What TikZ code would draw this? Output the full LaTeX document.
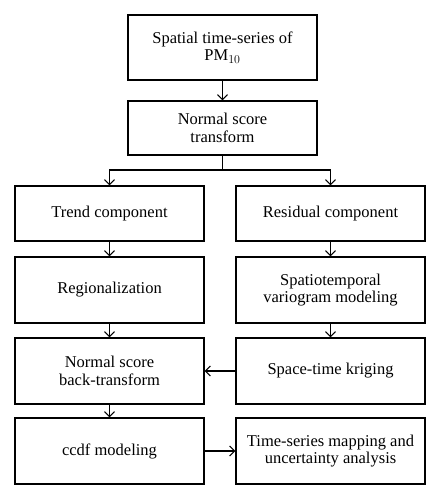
\documentclass[tikz,border=0pt]{standalone}
\usepackage{fontspec}
\setmainfont{Liberation Serif}
\usetikzlibrary{arrows.meta}
\begin{document}
\begin{tikzpicture}[x=1pt, y=-1pt,
    box/.style={draw, line width=1.2pt, minimum width=189pt, align=center,
        font=\fontsize{16.5}{17.5}\selectfont, inner sep=2pt},
    flow/.style={line width=1.1pt, -{Straight Barb[length=5pt,width=10pt]}}]
    \useasboundingbox (0,0) rectangle (440,500);

    % Boxes
    \node[box, minimum height=65pt] (series) at (222.5,47.5) {Spatial time-series of\\PM$_{10}$};
    \node[box, minimum height=54pt] (nst) at (222.5,128) {Normal score\\transform};
    \node[box, minimum height=55pt] (trend) at (109.5,213.5) {Trend component};
    \node[box, minimum height=55pt] (resid) at (330.5,213.5) {Residual component};
    \node[box, minimum height=66pt] (region) at (109.5,290) {Regionalization};
    \node[box, minimum height=66pt] (vario) at (330.5,290) {Spatiotemporal\\variogram modeling};
    \node[box, minimum height=66pt] (backtr) at (109.5,371) {Normal score\\back-transform};
    \node[box, minimum height=66pt] (krig) at (330.5,371) {Space-time kriging};
    \node[box, minimum height=66pt] (ccdf) at (109.5,451) {ccdf modeling};
    \node[box, minimum height=66pt] (mapping) at (330.5,451) {Time-series mapping and\\uncertainty analysis};

    % Connectors
    \coordinate (split) at (222.5,170);
    \draw[flow] (series) -- (nst);
    \draw[line width=1.1pt] (nst) -- (split);
    \draw[flow] (split) -| (trend);
    \draw[flow] (split) -| (resid);
    \draw[flow] (trend) -- (region);
    \draw[flow] (resid) -- (vario);
    \draw[flow] (region) -- (backtr);
    \draw[flow] (vario) -- (krig);
    \draw[flow] (krig) -- (backtr);
    \draw[flow] (backtr) -- (ccdf);
    \draw[flow] (ccdf) -- (mapping);
\end{tikzpicture}
\end{document}
